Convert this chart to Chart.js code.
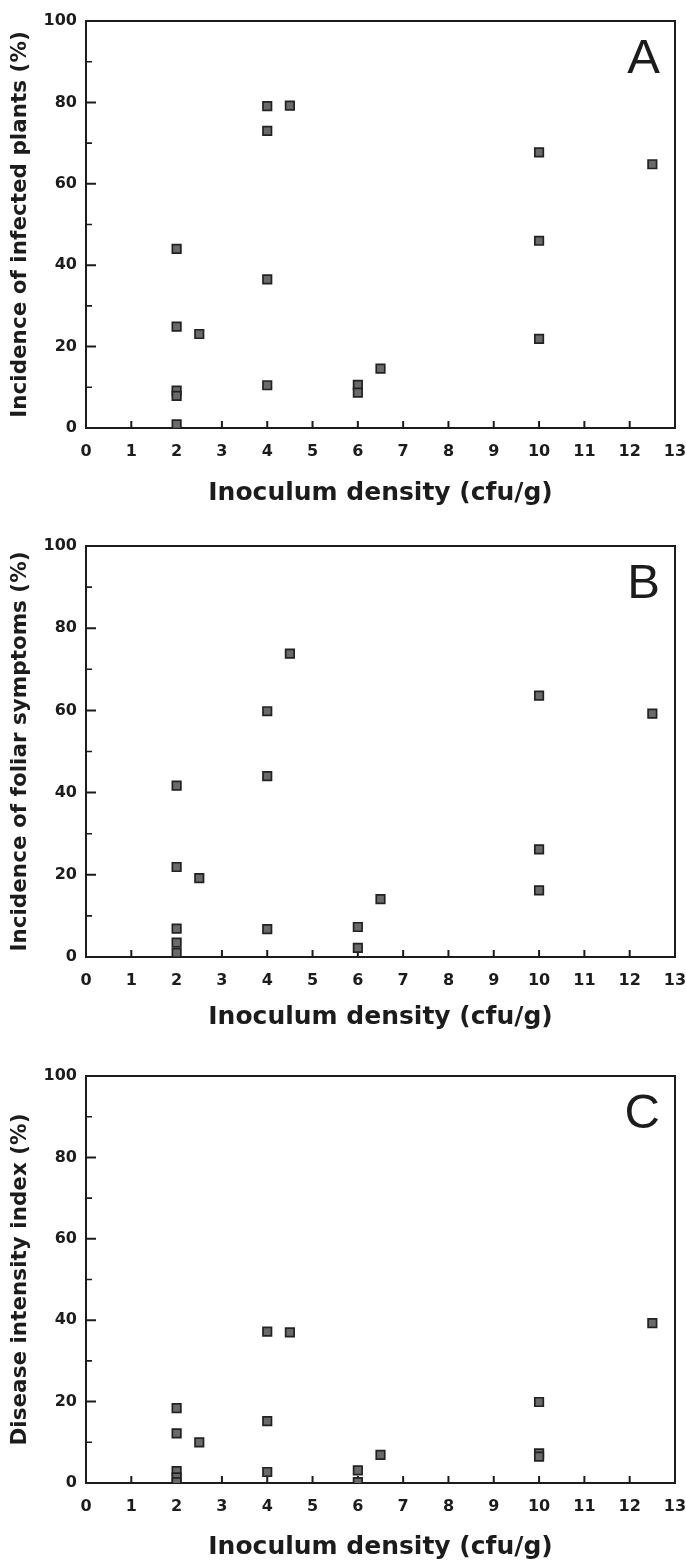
<!DOCTYPE html>
<html>
<head>
<meta charset="utf-8">
<script src="https://cdn.jsdelivr.net/npm/chart.js@4.4.1/dist/chart.umd.min.js"></script>
<style>
  html, body { margin: 0; padding: 0; background: #ffffff; }
  body { width: 686px; height: 1564px; position: relative; overflow: hidden; }
  canvas { position: absolute; left: 0; }
</style>
</head>
<body>
<canvas id="cA" width="686" height="520" style="top:0px"></canvas>
<canvas id="cB" width="686" height="520" style="top:520px"></canvas>
<canvas id="cC" width="686" height="524" style="top:1040px"></canvas>
<script>
// ---- Data ----
const xTicks = [0, 1, 2, 3, 4, 5, 6, 7, 8, 9, 10, 11, 12, 13];
const yTicks = [0, 20, 40, 60, 80, 100];
const yMinorTicks = [10, 30, 50, 70, 90];

const xTitle = 'Inoculum density (cfu/g)';
const yTitleA = 'Incidence of infected plants (%)';
const yTitleB = 'Incidence of foliar symptoms (%)';
const yTitleC = 'Disease intensity index (%)';

// Panel A: incidence of infected plants
const xA = [2, 2, 2, 2, 2, 2.5, 4, 4, 4, 4, 4.5, 6, 6, 6.5, 10, 10, 10, 12.5];
const yA = [44.0, 24.9, 9.2, 7.9, 0.9, 23.1, 79.1, 73.0, 36.5, 10.5, 79.2, 10.6, 8.7, 14.6, 67.7, 46.0, 21.9, 64.8];

// Panel B: incidence of foliar symptoms
const xB = [2, 2, 2, 2, 2, 2.5, 4, 4, 4, 4.5, 6, 6, 6.5, 10, 10, 10, 12.5];
const yB = [41.7, 21.9, 6.9, 3.5, 1.0, 19.2, 59.8, 44.0, 6.8, 73.8, 7.3, 2.2, 14.1, 63.6, 26.2, 16.2, 59.2];

// Panel C: disease intensity index
const xC = [2, 2, 2, 2, 2, 2.5, 4, 4, 4, 4.5, 6, 6, 6.5, 10, 10, 10, 12.5];
const yC = [18.4, 12.2, 2.9, 1.4, 0.2, 10.0, 37.2, 15.2, 2.7, 37.0, 3.1, 0.2, 6.9, 19.9, 7.3, 6.5, 39.3];

// ---- Styling ----
const INK = '#1c1c1c';
const tickFont = { family: 'DejaVu Sans', weight: 'bold', size: 16 };
const xTitleFont = { family: 'DejaVu Sans', weight: 'bold', size: 25 };
const yTitleFont = { family: 'DejaVu Sans', weight: 'bold', size: 21.5 };

const framePlugin = {
  id: 'frame',
  beforeDatasetsDraw(chart) {
    const { ctx, chartArea: a, scales: { x, y } } = chart;
    ctx.save();
    ctx.strokeStyle = INK;
    ctx.lineWidth = 2;
    ctx.lineCap = 'butt';
    ctx.strokeRect(a.left, a.top, a.right - a.left, a.bottom - a.top);
    ctx.beginPath();
    xTicks.forEach(v => {
      const px = x.getPixelForValue(v);
      ctx.moveTo(px, a.bottom);
      ctx.lineTo(px, a.bottom - 7);
    });
    yTicks.forEach(v => {
      const py = y.getPixelForValue(v);
      ctx.moveTo(a.left, py);
      ctx.lineTo(a.left + 10, py);
    });
    ctx.stroke();
    ctx.lineWidth = 1.6;
    ctx.beginPath();
    yMinorTicks.forEach(v => {
      const py = y.getPixelForValue(v);
      ctx.moveTo(a.left, py);
      ctx.lineTo(a.left + 6, py);
    });
    ctx.stroke();
    ctx.restore();
  },
  afterDraw(chart, args, opts) {
    const { ctx, chartArea: a } = chart;
    ctx.save();
    ctx.fillStyle = INK;
    ctx.font = '49px "Liberation Sans"';
    ctx.textAlign = 'right';
    ctx.textBaseline = 'alphabetic';
    ctx.fillText(opts.letter, a.right - 15, a.top + 52);
    ctx.restore();
  }
};

function makeChart(id, xs, ys, yTitle, letter, padTop, xHeight, xTitlePadBottom) {
  const points = xs.map((v, i) => ({ x: v, y: ys[i] }));
  return new Chart(document.getElementById(id), {
    type: 'scatter',
    data: {
      datasets: [{
        data: points,
        pointStyle: 'rect',
        pointRadius: 6,
        pointHoverRadius: 6,
        backgroundColor: '#6a6a6a',
        borderColor: '#222222',
        borderWidth: 1.7
      }]
    },
    options: {
      responsive: false,
      animation: false,
      devicePixelRatio: 1,
      layout: { padding: { top: padTop, right: 11, bottom: 0, left: 0 } },
      plugins: {
        legend: { display: false },
        tooltip: { enabled: false },
        frame: { letter: letter }
      },
      scales: {
        x: {
          type: 'linear',
          min: 0,
          max: 13,
          afterBuildTicks: s => { s.ticks = xTicks.map(v => ({ value: v })); },
          afterFit: s => { s.height = xHeight; s.paddingLeft = 0; s.paddingRight = 0; },
          grid: { display: false, drawTicks: false },
          border: { display: false },
          ticks: { font: tickFont, color: INK, padding: 14, maxRotation: 0, autoSkip: false },
          title: { display: true, text: xTitle, font: xTitleFont, color: INK, padding: { top: 0, bottom: xTitlePadBottom } }
        },
        y: {
          type: 'linear',
          min: 0,
          max: 100,
          afterBuildTicks: s => { s.ticks = yTicks.map(v => ({ value: v })); },
          afterFit: s => { s.width = 86; s.paddingTop = 0; s.paddingBottom = 0; },
          grid: { display: false, drawTicks: false },
          border: { display: false },
          ticks: { font: tickFont, color: INK, padding: 9, autoSkip: false },
          title: { display: true, text: yTitle, font: yTitleFont, color: INK, padding: { top: 8, bottom: 0 } }
        }
      }
    },
    plugins: [framePlugin]
  });
}

makeChart('cA', xA, yA, yTitleA, 'A', 21, 92, 12);
makeChart('cB', xB, yB, yTitleB, 'B', 26, 83, 8);
makeChart('cC', xC, yC, yTitleC, 'C', 36, 81, 2);
</script>
</body>
</html>
